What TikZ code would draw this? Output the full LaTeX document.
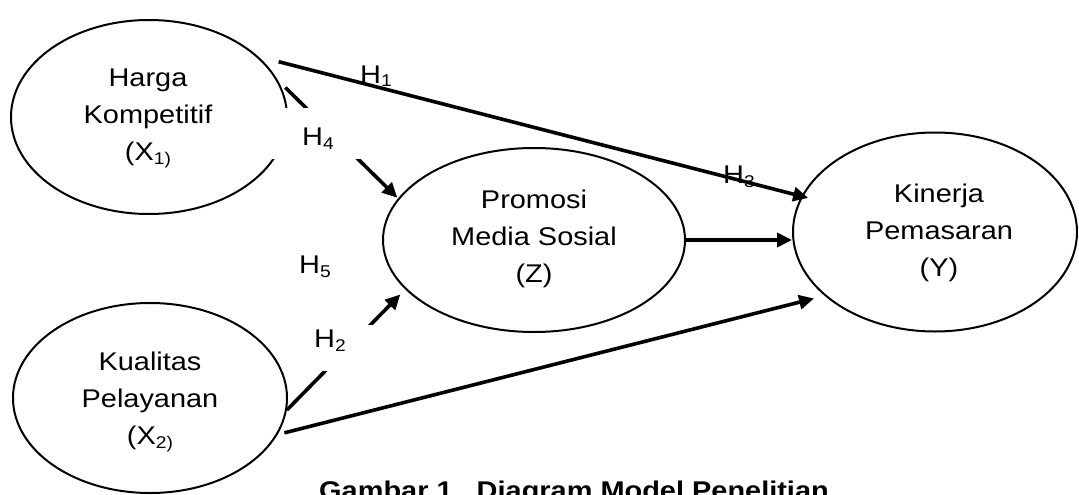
\documentclass[tikz,border=0pt]{standalone}
\usepackage{fontspec}
\setmainfont[FakeStretch=1.13]{Liberation Sans}
\usetikzlibrary{arrows.meta,shapes.geometric}
\newcommand{\mysub}[1]{\raisebox{-4pt}{\fontsize{17}{17}\selectfont #1}}
\begin{document}
\begin{tikzpicture}[x=1pt,y=-1pt,
  ell/.style={draw, ellipse, line width=2pt, inner sep=0pt},
  txt/.style={align=center, font=\fontsize{25.6}{37}\selectfont, inner sep=0pt},
  hlab/.style={anchor=base west, font=\fontsize{25.6}{30}\selectfont, inner sep=0pt},
  arr/.style={line width=3.6pt, -{Triangle[length=15pt,width=14pt]}},
  cover/.style={fill=white, draw=none}]
\useasboundingbox (0,0) rectangle (1079,495);
\fill[white] (0,0) rectangle (1079,495);
% ellipses
\node[ell, minimum width=276pt, minimum height=194pt] (hk) at (149,117) {};
\node[ell, minimum width=274pt, minimum height=190pt] (kl) at (150,398) {};
\node[ell, minimum width=302pt, minimum height=184pt] (pm) at (534,240) {};
\node[ell, minimum width=284pt, minimum height=199pt] (kp) at (935,232) {};
% connectors
\draw[arr, shorten <=21pt, shorten >=-7pt] (hk.29.8) -- (kp.165.85);
\draw[arr, shorten <=10.7pt, shorten >=1pt] (hk.16.4) -- (pm.163.1);
\draw[arr, shorten >=7pt] (kl.-5) -- (pm.201.5);
\draw[arr, shorten <=7pt, shorten >=10.8pt] (kl.-16.24) -- (kp.210);
\draw[arr] (pm.east) -- (pm.east -| kp.west);
% white label boxes covering lines
\path[cover] (262,108) rectangle (365,159);
\path[cover] (282,325) rectangle (376,371);
% labels
\node[hlab] (h1) at (360,83) {H\mysub{1}};
\node[hlab] (h4) at (302,145) {H\mysub{4}};
\node[hlab] (h5) at (299,273) {H\mysub{5}};
\node[hlab] (h2) at (314,347) {H\mysub{2}};
\node[hlab] (h3) at (723,183) {H\mysub{3}};
% texts
\node[txt] (hkt) at (148,118) {Harga\\Kompetitif\\(X\mysub{1)}};
\node[txt] (klt) at (150,402) {Kualitas\\Pelayanan\\(X\mysub{2)}};
\node[txt] (pmt) at (534,239) {Promosi\\Media Sosial\\(Z)};
\node[txt] (kpt) at (939,233) {Kinerja\\Pemasaran\\(Y)};
% caption
\node[anchor=base west, inner sep=0pt, font=\bfseries\fontsize{25.6}{30}\selectfont] (cap) at (319,499) {Gambar 1.\ \ Diagram Model Penelitian};
\end{tikzpicture}
\end{document}
